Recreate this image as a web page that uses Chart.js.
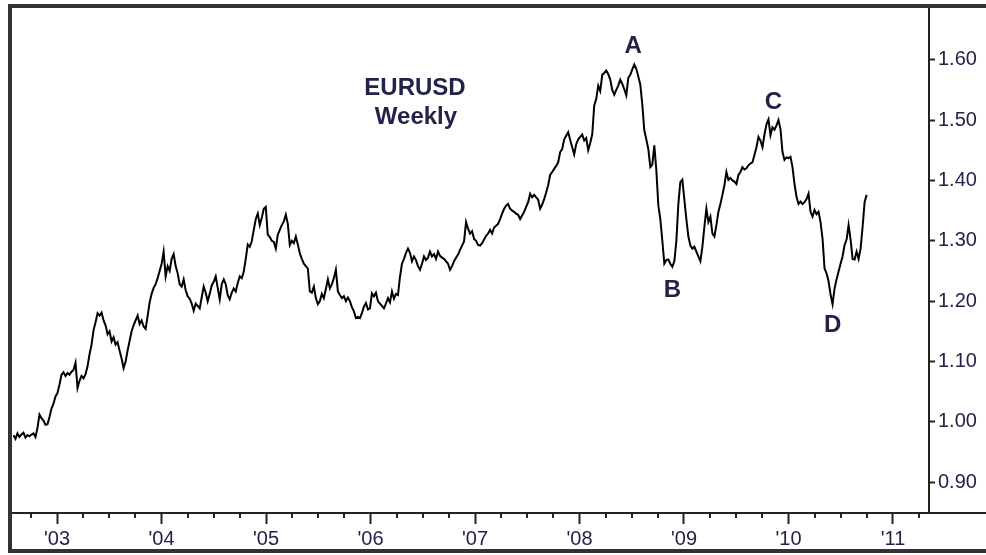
<!DOCTYPE html>
<html>
<head>
<meta charset="utf-8">
<script src="https://cdn.jsdelivr.net/npm/chart.js@4.4.0/dist/chart.umd.min.js"></script>
<style>
html, body { margin: 0; padding: 0; background: #fff; }
#wrap { width: 986px; height: 555px; }
</style>
</head>
<body>
<div id="wrap"><canvas id="eurusd" width="986" height="555"></canvas></div>
<script>
// EURUSD weekly closes, first week ends 2 Aug 2002
var eur2002 = [0.978,0.972,0.981,0.975,0.979,0.982,0.974,0.978,0.976,0.979,0.981,0.975,0.990,1.012,1.006,1.002,0.995,0.996,1.008,1.022,1.030,1.042];
var eur2003 = [1.048,1.062,1.078,1.082,1.076,1.081,1.078,1.083,1.086,1.098,1.056,1.068,1.076,1.072,1.079,1.092,1.112,1.128,1.152,1.165,1.180,1.176,1.181,1.168,1.160,1.145,1.150,1.133,1.140,1.128,1.132,1.118,1.105,1.089,1.100,1.118,1.134,1.150,1.160,1.168,1.176,1.162,1.168,1.158,1.154,1.175,1.198,1.212,1.222,1.228,1.238,1.250];
var eur2004 = [1.262,1.282,1.241,1.258,1.250,1.270,1.278,1.258,1.246,1.228,1.224,1.236,1.218,1.208,1.204,1.196,1.184,1.196,1.192,1.188,1.206,1.224,1.214,1.200,1.212,1.226,1.232,1.241,1.222,1.203,1.228,1.236,1.228,1.210,1.203,1.214,1.221,1.216,1.230,1.241,1.238,1.249,1.270,1.294,1.290,1.299,1.318,1.336,1.345,1.326,1.338,1.353,1.356];
var eur2005 = [1.310,1.306,1.300,1.298,1.287,1.310,1.318,1.326,1.332,1.343,1.328,1.293,1.300,1.296,1.307,1.294,1.279,1.270,1.262,1.258,1.254,1.216,1.214,1.224,1.205,1.195,1.200,1.212,1.205,1.220,1.236,1.221,1.228,1.238,1.252,1.216,1.210,1.205,1.208,1.200,1.206,1.200,1.190,1.183,1.172,1.174,1.172,1.180,1.191,1.197,1.186,1.188];
var eur2006 = [1.213,1.208,1.214,1.200,1.196,1.192,1.188,1.196,1.205,1.198,1.216,1.204,1.212,1.210,1.240,1.262,1.270,1.280,1.287,1.280,1.266,1.274,1.268,1.258,1.252,1.262,1.274,1.268,1.272,1.282,1.274,1.278,1.270,1.282,1.275,1.272,1.270,1.266,1.262,1.252,1.258,1.266,1.272,1.277,1.285,1.292,1.299,1.331,1.320,1.312,1.316,1.303];
var eur2007 = [1.300,1.293,1.292,1.296,1.302,1.308,1.312,1.318,1.312,1.322,1.325,1.328,1.336,1.345,1.353,1.358,1.361,1.353,1.350,1.348,1.345,1.343,1.336,1.342,1.348,1.356,1.364,1.378,1.372,1.376,1.372,1.368,1.353,1.360,1.369,1.380,1.392,1.409,1.414,1.419,1.424,1.430,1.447,1.452,1.468,1.474,1.480,1.467,1.455,1.443,1.460,1.468];
var eur2008 = [1.472,1.476,1.466,1.470,1.450,1.462,1.476,1.524,1.535,1.557,1.548,1.575,1.578,1.582,1.576,1.567,1.550,1.542,1.550,1.557,1.567,1.560,1.551,1.541,1.570,1.575,1.584,1.592,1.585,1.572,1.559,1.526,1.483,1.468,1.452,1.422,1.426,1.458,1.417,1.359,1.336,1.300,1.262,1.268,1.269,1.262,1.257,1.266,1.299,1.361,1.397,1.401];
var eur2009 = [1.368,1.336,1.307,1.292,1.287,1.290,1.282,1.274,1.266,1.290,1.323,1.353,1.331,1.340,1.312,1.307,1.326,1.348,1.361,1.376,1.392,1.414,1.401,1.404,1.400,1.398,1.394,1.409,1.414,1.422,1.418,1.420,1.425,1.428,1.430,1.442,1.455,1.472,1.466,1.455,1.476,1.493,1.501,1.475,1.488,1.484,1.491,1.500,1.485,1.447,1.434,1.438];
var eur2010 = [1.437,1.439,1.422,1.394,1.373,1.361,1.365,1.361,1.364,1.369,1.378,1.348,1.340,1.351,1.344,1.348,1.331,1.303,1.254,1.246,1.233,1.211,1.195,1.221,1.236,1.249,1.262,1.274,1.293,1.302,1.326,1.302,1.270,1.269,1.282,1.270,1.287,1.323,1.364,1.376];

var yearTicks = [2003, 2004, 2005, 2006, 2007, 2008, 2009, 2010, 2011];
var yearLabels = ["'03", "'04", "'05", "'06", "'07", "'08", "'09", "'10", "'11"];
var priceTicks = [0.90, 1.00, 1.10, 1.20, 1.30, 1.40, 1.50, 1.60];
var waveLabels = ['A', 'B', 'C', 'D'];
var waveWeeks = [310, 329, 382, 409];   // week index of each turning point
var titleLines = ['EURUSD', 'Weekly'];

var firstWeek = 2002 + 213 / 365.25;
var textColor = '#23234a';
var fontFamily = "'Liberation Sans', Arial, sans-serif";

var closes = [].concat(eur2002, eur2003, eur2004, eur2005, eur2006, eur2007, eur2008, eur2009, eur2010);
var points = closes.map(function(v, i) {
  return { x: firstWeek + i * 7 / 365.25, y: v };
});

var quarterTicks = [];
[2002].concat(yearTicks).forEach(function(y) {
  [0.25, 0.5, 0.75].forEach(function(q) { quarterTicks.push(y + q); });
});

var decorations = {
  id: 'decorations',
  afterDraw: function(chart) {
    var ctx = chart.ctx, area = chart.chartArea;
    var xs = chart.scales.x, ys = chart.scales.y;
    ctx.save();

    // frame round the picture
    ctx.fillStyle = '#333';
    ctx.fillRect(8, 4, 978, 4);
    ctx.fillRect(8, 4, 4, 549);
    ctx.fillRect(8, 549, 978, 4);

    // axis lines run on to the frame and the right edge
    ctx.fillStyle = '#222';
    ctx.fillRect(12, area.bottom - 1, 986 - 12, 2);
    ctx.fillRect(area.right - 1, 8, 2, area.bottom - 8);

    // short quarter ticks
    ctx.strokeStyle = '#222';
    ctx.lineWidth = 2;
    quarterTicks.forEach(function(q) {
      if (q < xs.min || q > xs.max) return;
      var px = Math.round(xs.getPixelForValue(q));
      ctx.beginPath();
      ctx.moveTo(px, area.bottom);
      ctx.lineTo(px, area.bottom + 5);
      ctx.stroke();
    });

    ctx.fillStyle = textColor;
    ctx.textAlign = 'center';
    ctx.textBaseline = 'middle';
    ctx.font = 'bold 24px ' + fontFamily;
    ctx.fillText(titleLines[0], 415, 88);
    ctx.fillText(titleLines[1], 416, 117);

    var offsets = [[-1, -18], [0, 24], [-5, -18], [0, 21]];
    waveLabels.forEach(function(lbl, k) {
      var p = points[waveWeeks[k]];
      ctx.fillText(lbl, xs.getPixelForValue(p.x) + offsets[k][0], ys.getPixelForValue(p.y) + offsets[k][1]);
    });
    ctx.restore();
  }
};

var ctx1 = document.getElementById('eurusd').getContext('2d');
var chart = new Chart(ctx1, {
  type: 'line',
  data: {
    datasets: [{
      data: points,
      borderColor: '#000',
      borderWidth: 2,
      pointRadius: 0,
      tension: 0,
      fill: false
    }]
  },
  options: {
    responsive: false,
    animation: false,
    devicePixelRatio: 1,
    layout: { padding: { left: 13, top: 10, right: 0, bottom: 0 } },
    scales: {
      x: {
        type: 'linear',
        min: 2003 - 44 / 104.5,
        max: 2003 + 872 / 104.5,
        afterBuildTicks: function(s) {
          s.ticks = yearTicks.map(function(v) { return { value: v }; });
        },
        afterFit: function(s) { s.height = 42; },
        grid: { drawOnChartArea: false, tickLength: 11, tickWidth: 2, tickColor: '#222' },
        border: { display: true, color: '#222', width: 2 },
        ticks: {
          color: textColor,
          font: { family: fontFamily, size: 20 },
          padding: 3,
          maxRotation: 0,
          autoSkip: false,
          callback: function(v) {
            var k = yearTicks.indexOf(v);
            return k >= 0 ? yearLabels[k] : '';
          }
        }
      },
      y: {
        position: 'right',
        min: 0.849,
        max: 1.674,
        afterBuildTicks: function(s) {
          s.ticks = priceTicks.map(function(v) { return { value: v }; });
        },
        afterFit: function(s) { s.width = 57; },
        grid: { drawOnChartArea: false, tickLength: 6, tickWidth: 2, tickColor: '#222' },
        border: { display: true, color: '#222', width: 2 },
        ticks: {
          color: textColor,
          font: { family: fontFamily, size: 20 },
          padding: 3,
          callback: function(v) { return v.toFixed(2); }
        }
      }
    },
    plugins: {
      legend: { display: false },
      tooltip: { enabled: false }
    }
  },
  plugins: [decorations]
});
</script>
</body>
</html>
